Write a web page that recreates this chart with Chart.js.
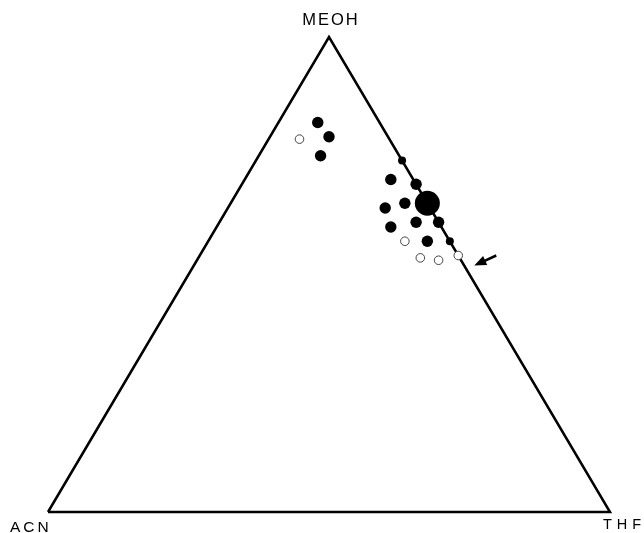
<!DOCTYPE html>
<html>
<head>
<meta charset="utf-8">
<script src="https://cdn.jsdelivr.net/npm/chart.js@4.4.1/dist/chart.umd.min.js"></script>
<style>
  html, body { margin: 0; padding: 0; background: #fff; }
  #wrap { width: 644px; height: 533px; position: relative; }
</style>
</head>
<body>
<div id="wrap"><canvas id="c"></canvas></div>
<script>
// Solvent triangle: corners are pure MEOH (top), ACN (lower left), THF (lower right).
const vertexLabels = ['MEOH', 'ACN', 'THF'];

// Mobile-phase compositions (volume fractions of MEOH / ACN / THF)
const filledMeoh = [0.82, 0.79, 0.75, 0.70, 0.69, 0.64, 0.65, 0.60, 0.61, 0.61, 0.57];
const filledAcn  = [0.11, 0.105, 0.14, 0.04, 0.00, 0.08, 0.04, 0.09, 0.04, 0.00, 0.04];
const filledThf  = [0.07, 0.105, 0.11, 0.26, 0.31, 0.28, 0.31, 0.31, 0.35, 0.39, 0.39];

const smallMeoh = [0.74, 0.57];
const smallAcn  = [0.00, 0.00];
const smallThf  = [0.26, 0.43];

const openMeoh = [0.785, 0.57, 0.535, 0.53, 0.54];
const openAcn  = [0.16, 0.08, 0.07, 0.04, 0.00];
const openThf  = [0.055, 0.35, 0.395, 0.43, 0.46];

// Selected optimum composition
const optMeoh = [0.65];
const optAcn  = [0.00];
const optThf  = [0.35];

// Barycentric -> cartesian (ACN at x=0, THF at x=1, MEOH at apex y=1)
function toXY(meoh, acn, thf) {
  return meoh.map((m, i) => ({ x: thf[i] + m / 2, y: m }));
}

const triangle = [{x: 0, y: 0}, {x: 0.5, y: 1}, {x: 1, y: 0}, {x: 0, y: 0}];

// Vertex captions and the arrow marking the last open composition
const decorations = {
  id: 'decorations',
  afterDatasetsDraw(chart) {
    const {ctx, scales: {x, y}} = chart;
    ctx.save();
    ctx.fillStyle = '#000';
    ctx.textBaseline = 'alphabetic';
    ctx.font = '16.5px "Liberation Sans", Arial, sans-serif';
    ctx.letterSpacing = '2px';
    ctx.textAlign = 'center';
    ctx.fillText(vertexLabels[0], x.getPixelForValue(0.5) + 2, y.getPixelForValue(1) - 12);
    ctx.font = '15.5px "Liberation Sans", Arial, sans-serif';
    ctx.letterSpacing = '3px';
    ctx.textAlign = 'left';
    ctx.fillText(vertexLabels[1], x.getPixelForValue(0) - 38, y.getPixelForValue(0) + 19.5);
    ctx.font = '14.5px "Liberation Sans", Arial, sans-serif';
    ctx.letterSpacing = '5px';
    ctx.fillText(vertexLabels[2], x.getPixelForValue(1) - 7, y.getPixelForValue(0) + 16.5);

    // arrow
    const meta = chart.getDatasetMeta(2);
    const p = meta.data[meta.data.length - 1];
    const tipX = p.x + 16, tipY = p.y + 10;
    const tailX = tipX + 22, tailY = tipY - 10;
    const ang = Math.atan2(tipY - tailY, tipX - tailX);
    ctx.strokeStyle = '#000';
    ctx.lineWidth = 2.5;
    ctx.beginPath();
    ctx.moveTo(tailX, tailY);
    ctx.lineTo(tipX - 6 * Math.cos(ang), tipY - 6 * Math.sin(ang));
    ctx.stroke();
    const hl = 12, hw = 5;
    const bx = tipX - hl * Math.cos(ang), by = tipY - hl * Math.sin(ang);
    ctx.beginPath();
    ctx.moveTo(tipX, tipY);
    ctx.lineTo(bx + hw * Math.sin(ang), by - hw * Math.cos(ang));
    ctx.lineTo(bx - hw * Math.sin(ang), by + hw * Math.cos(ang));
    ctx.closePath();
    ctx.fill();
    ctx.restore();
  }
};

new Chart(document.getElementById('c'), {
  type: 'scatter',
  data: {
    datasets: [
      {
        label: 'triangle',
        data: triangle,
        showLine: true,
        borderColor: '#000',
        borderWidth: 2.5,
        pointRadius: 0,
        fill: false,
        tension: 0,
        borderJoinStyle: 'miter',
        clip: false,
        order: 5
      },
      {
        label: 'filled',
        data: toXY(filledMeoh, filledAcn, filledThf),
        pointRadius: 5.7,
        pointBackgroundColor: '#000',
        pointBorderColor: '#000',
        pointBorderWidth: 0,
        clip: false
      },
      {
        label: 'open',
        data: toXY(openMeoh, openAcn, openThf),
        pointRadius: 4.3,
        pointBackgroundColor: '#fff',
        pointBorderColor: '#444',
        pointBorderWidth: 1,
        clip: false
      },
      {
        label: 'small',
        data: toXY(smallMeoh, smallAcn, smallThf),
        pointRadius: 4,
        pointBackgroundColor: '#000',
        pointBorderColor: '#000',
        pointBorderWidth: 0,
        clip: false
      },
      {
        label: 'optimum',
        data: toXY(optMeoh, optAcn, optThf),
        pointRadius: 12.5,
        pointBackgroundColor: '#000',
        pointBorderColor: '#000',
        pointBorderWidth: 0,
        clip: false
      }
    ]
  },
  options: {
    responsive: true,
    maintainAspectRatio: false,
    animation: false,
    layout: { padding: { left: 48, right: 34, top: 37, bottom: 21 } },
    scales: {
      x: { type: 'linear', min: 0, max: 1, display: false },
      y: { type: 'linear', min: 0, max: 1, display: false }
    },
    plugins: {
      legend: { display: false },
      tooltip: { enabled: false }
    }
  },
  plugins: [decorations]
});
</script>
</body>
</html>
